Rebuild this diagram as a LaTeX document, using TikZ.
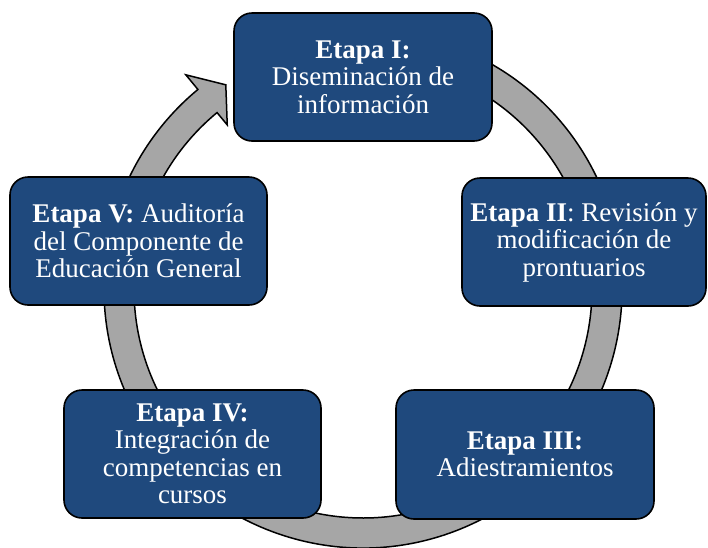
\documentclass[tikz,border=0pt]{standalone}
\usepackage{fontspec}
\setmainfont{Liberation Serif}
\definecolor{boxblue}{RGB}{31,73,125}
\definecolor{ringgray}{RGB}{166,166,166}
\begin{document}
\begin{tikzpicture}[x=1pt,y=1pt,
  stagebox/.style={draw=black, line width=1.6pt, fill=boxblue, rounded corners=18pt,
    text=white, align=center, inner sep=0pt,
    font=\fontsize{27}{27.5}\selectfont},
  ringstyle/.style={draw=black, line width=1.5pt, fill=ringgray, line join=miter}]
\useasboundingbox (0,0) rectangle (708,-547);
% circular arrow
\begin{scope}[shift={(363,-289)}]
\coordinate (c) at (0,0);
\path[ringstyle] (115:259) arc[start angle=115, end angle=-230.4, radius=259]
  -- (-230.4:278) -- (-236.1:246) -- (-230.4:213) -- (-230.4:229)
  arc[start angle=-230.4, end angle=115, radius=229] -- cycle;
\end{scope}
% stages
\node[stagebox, minimum width=258pt, minimum height=128pt] (s1) at (363,-77)
  {\textbf{Etapa I:}\\Diseminación de\\información};
\node[stagebox, minimum width=244pt, minimum height=128pt] (s2) at (584,-242)
  {\textbf{Etapa II}: Revisión y\\modificación de\\prontuarios};
\node[stagebox, minimum width=258pt, minimum height=129pt] (s3) at (525,-454.5)
  {\textbf{Etapa III:}\\Adiestramientos};
\node[stagebox, minimum width=257pt, minimum height=128pt] (s4) at (192.5,-454)
  {\textbf{Etapa IV:}\\Integración de\\competencias en\\cursos};
\node[stagebox, minimum width=257pt, minimum height=128pt] (s5) at (138.5,-241)
  {\textbf{Etapa V:} Auditoría\\del Componente de\\Educación General};
\end{tikzpicture}
\end{document}
